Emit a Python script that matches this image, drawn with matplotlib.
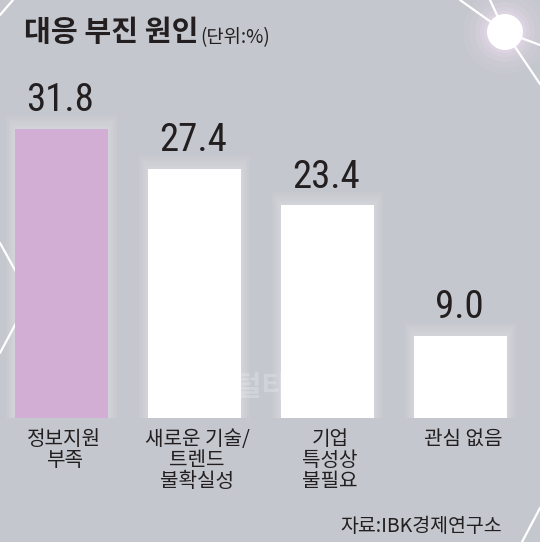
import numpy as np
import matplotlib
matplotlib.use("Agg")
import matplotlib.pyplot as plt
from matplotlib import font_manager
from matplotlib.patches import Circle

categories = ["정보지원\n부족", "새로운 기술/\n트렌드\n불확실성", "기업\n특성상\n불필요", "관심 없음"]
values = [31.8, 27.4, 23.4, 9.0]
value_labels = ["31.8", "27.4", "23.4", "9.0"]
bar_colors = ["#d3aed4", "#ffffff", "#ffffff", "#ffffff"]

title = "대응 부진 원인"
unit = "(단위:%)"
source = "자료:IBK경제연구소"
watermark = "디지털타임스"

KR = "Noto Sans CJK KR"
plt.rcParams["font.family"] = [KR, "DejaVu Sans"]

# pick a narrow face for the numbers if one is around
num_font = dict(family="Liberation Sans", size=27)
for f in font_manager.fontManager.ttflist:
    if f.name in ("Liberation Sans Narrow", "DejaVu Sans Condensed", "Roboto Condensed"):
        num_font = dict(family=f.name, size=28, weight="normal")
        break
    if f.name == "DejaVu Sans" and str(f.stretch) in ("condensed", "semi-condensed", "75", "87"):
        num_font = dict(family="DejaVu Sans", stretch="condensed", size=27)

BG = "#c4c7cd"
INK = "#231f20"

fig = plt.figure(figsize=(5.4, 5.42), dpi=100, facecolor=BG)

# background decoration, pixel coordinates
deco = fig.add_axes([0, 0, 1, 1])
deco.set_xlim(0, 540)
deco.set_ylim(542, 0)
deco.axis("off")
line_kw = dict(color="white", lw=1.6, solid_capstyle="round")
deco.plot([0, 13], [15, 0], **line_kw)
deco.plot([0, 30, 0], [243, 297, 353], **line_kw)
deco.plot([522, 540], [542, 508], **line_kw)
for end in [(460, 0), (490, 0), (540, 45), (540, 84)]:
    deco.plot([505, end[0]], [32, end[1]], **line_kw)
for r, a in zip([42, 36, 30, 25, 21], [0.08, 0.1, 0.14, 0.2, 0.3]):
    deco.add_patch(Circle((505, 32), r, color="#efe0f4", alpha=a, lw=0))
deco.add_patch(Circle((505, 32), 18, color="white", lw=0))

# chart
ax = fig.add_axes([0, 0.2288, 1, 0.5867])
ax.set_facecolor("none")
x = np.arange(len(values))
px = 1 / 133.0
bar_w = 0.70
vals = np.array(values)
for k in range(1, 7):
    ax.bar(x, vals + k * 0.25, width=bar_w + 2 * k * px * 1.5,
           color="white", alpha=0.05, lw=0, zorder=1)
ax.bar(x, vals, width=bar_w, color=bar_colors, lw=0, zorder=2)
for xi, v, lab in zip(x, values, value_labels):
    ax.annotate(lab, (xi, v), xytext=(-1, 7), textcoords="offset points",
                ha="center", va="bottom", color=INK, zorder=3,
                fontproperties=font_manager.FontProperties(**num_font))
ax.set_xlim(-0.462, 3.598)
ax.set_ylim(0, 35)
ax.axis("off")

for xi, cat in zip(x, categories):
    ax.annotate(cat, (xi, 0), xytext=(2, -8), textcoords="offset points",
                ha="center", va="top", fontsize=14.5, fontweight="medium",
                color=INK, linespacing=1.0, annotation_clip=False)

t = fig.text(24 / 540, 1 - 41 / 542, title, fontsize=21, fontweight="bold",
             color=INK, ha="left", va="baseline")
ax.annotate(unit, xy=(1, 0), xycoords=t, xytext=(1, -1), textcoords="offset points",
            ha="left", va="bottom", fontsize=13.5, color=INK)

fig.text(502 / 540, 1 - 537 / 542, source, fontsize=14, color=INK,
         ha="right", va="bottom")
fig.text(262 / 540, 1 - 387 / 542, watermark, fontsize=21, fontweight="bold",
         color="white", alpha=0.22, ha="center", va="center")

fig.savefig("out.png", dpi=100, facecolor=BG)
